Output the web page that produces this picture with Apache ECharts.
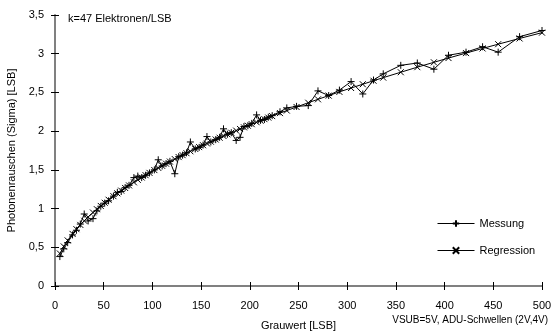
<!DOCTYPE html>
<html><head><meta charset="utf-8">
<script src="https://cdn.jsdelivr.net/npm/echarts@6/dist/echarts.min.js"></script>
<style>html,body{margin:0;padding:0;background:#fff}#c{width:552px;height:331px}</style>
</head><body><div id="c"></div>
<script>
const grauwert = [5,9,13,18,22,26,30,34,39,43,47,51,55,60,64,68,72,76,81,85,89,93,97,102,106,110,114,118,123,127,131,135,139,144,148,152,156,160,165,169,173,177,181,186,190,194,198,202,207,211,215,219,223,231,238,248,260,270,281,292,304,316,327,337,355,372,389,404,422,439,455,477,500];
const messung = [0.38,0.48,0.56,0.66,0.72,0.80,0.93,0.84,0.87,0.97,1.03,1.07,1.10,1.16,1.21,1.22,1.27,1.30,1.40,1.42,1.40,1.43,1.46,1.50,1.63,1.55,1.58,1.61,1.45,1.67,1.69,1.72,1.86,1.77,1.79,1.82,1.93,1.86,1.89,1.92,2.03,1.96,1.98,1.88,1.92,2.06,2.07,2.10,2.21,2.14,2.15,2.18,2.20,2.25,2.30,2.32,2.33,2.52,2.46,2.53,2.64,2.48,2.66,2.74,2.85,2.88,2.80,2.98,3.02,3.09,3.02,3.22,3.30];
const regression = [0.420,0.511,0.589,0.673,0.734,0.789,0.842,0.891,0.949,0.992,1.034,1.075,1.114,1.160,1.197,1.232,1.266,1.299,1.339,1.371,1.401,1.431,1.461,1.497,1.525,1.552,1.580,1.607,1.639,1.665,1.690,1.715,1.740,1.770,1.794,1.818,1.841,1.864,1.892,1.915,1.937,1.959,1.980,2.007,2.028,2.049,2.070,2.090,2.115,2.135,2.155,2.175,2.194,2.233,2.266,2.312,2.367,2.411,2.459,2.507,2.557,2.606,2.651,2.691,2.761,2.826,2.889,2.944,3.008,3.068,3.123,3.197,3.272];
const yTicks = [0,0.5,1,1.5,2,2.5,3,3.5];
const yTickLabels = ['0','0,5','1','1,5','2','2,5','3','3,5'];
const xTickLabels = ['0','50','100','150','200','250','300','350','400','450','500'];
const seriesNames = ['Messung','Regression'];

const FONT = 'Liberation Sans';
const plus = 'path://M5,0L5,10M0,5L10,5';
const cross = 'path://M0,0L10,10M10,0L0,10';
const chart = echarts.init(document.getElementById('c'), null, {renderer:'canvas'});
const grid = {left:55, right:10, top:15, bottom:45, containLabel:false, outerBoundsMode:'none'};
const baseX = {type:'value', min:0, max:500, interval:50, gridIndex:0};
const baseY = {type:'value', min:0, max:3.5, interval:0.5, gridIndex:0};
chart.setOption({
  animation:false,
  backgroundColor:'#fff',
  textStyle:{fontFamily:FONT},
  grid:[grid],
  legend:{
    orient:'vertical', left:432, top:213, itemWidth:37, itemHeight:8, itemGap:16,
    data:seriesNames,
    lineStyle:{width:1, color:'#000'},
    textStyle:{fontFamily:FONT, fontSize:11, color:'#000'}
  },
  xAxis:[
    Object.assign({}, baseX, {
      name:'Grauwert [LSB]', nameLocation:'middle', nameGap:34,
      nameTextStyle:{fontFamily:FONT, fontSize:11, color:'#000'},
      axisLine:{show:true, onZero:false, lineStyle:{color:'#808080', width:2}},
      axisTick:{show:true, length:4, lineStyle:{color:'#000', width:1}},
      axisLabel:{fontFamily:FONT, fontSize:11, color:'#000', margin:14,
        formatter:(v)=>xTickLabels[Math.round(v/50)]},
      splitLine:{show:false}
    }),
    Object.assign({}, baseX, {
      position:'bottom',
      axisLine:{show:false, onZero:false},
      axisTick:{show:true, inside:true, length:4, lineStyle:{color:'#000', width:1}},
      axisLabel:{show:false}, splitLine:{show:false}
    })
  ],
  yAxis:[
    Object.assign({}, baseY, {
      name:'Photonenrauschen (Sigma) [LSB]', nameLocation:'middle', nameGap:37,
      nameTextStyle:{fontFamily:FONT, fontSize:11, color:'#000'},
      axisLine:{show:true, onZero:false, lineStyle:{color:'#808080', width:2}},
      axisTick:{show:true, length:4, lineStyle:{color:'#000', width:1}},
      axisLabel:{fontFamily:FONT, fontSize:11, color:'#000', margin:11,
        formatter:(v)=>{const i=yTicks.findIndex(t=>Math.abs(t-v)<1e-6); return i>=0?yTickLabels[i]:'';}},
      splitLine:{show:false}
    }),
    Object.assign({}, baseY, {
      position:'left',
      axisLine:{show:false, onZero:false},
      axisTick:{show:true, inside:true, length:4, lineStyle:{color:'#000', width:1}},
      axisLabel:{show:false}, splitLine:{show:false}
    })
  ],
  graphic:[
    {type:'text', left:68, top:13, style:{text:'k=47 Elektronen/LSB', font:'11px "Liberation Sans"', fill:'#000'}},
    {type:'text', right:4, top:315, style:{text:'VSUB=5V, ADU-Schwellen (2V,4V)', font:'10px "Liberation Sans"', fill:'#000'}}
  ],
  series:[
    {name:seriesNames[0], type:'line', data:grauwert.map((x,i)=>[x,messung[i]]),
      symbol:plus, symbolSize:7, showSymbol:true,
      lineStyle:{color:'#000', width:1},
      itemStyle:{color:'transparent', borderColor:'#000', borderWidth:1}},
    {name:seriesNames[1], type:'line', data:grauwert.map((x,i)=>[x,regression[i]]),
      symbol:cross, symbolSize:6, showSymbol:true,
      lineStyle:{color:'#000', width:1},
      itemStyle:{color:'transparent', borderColor:'#000', borderWidth:1}}
  ]
});
</script></body></html>
